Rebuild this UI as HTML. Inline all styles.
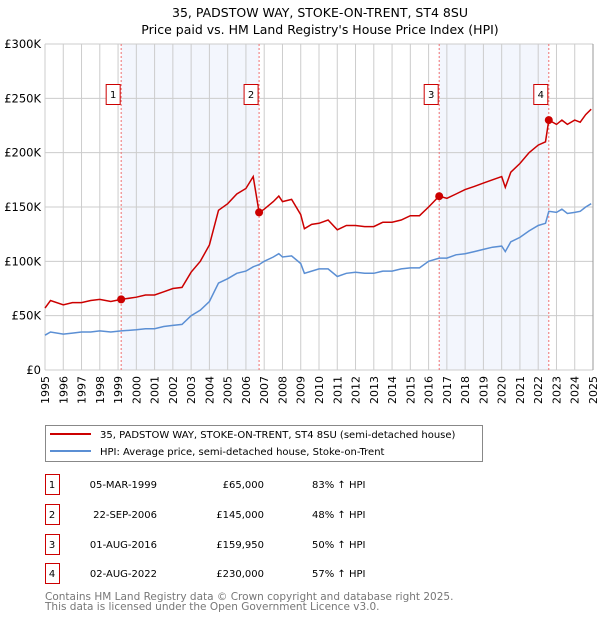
<!DOCTYPE html>
<html><head><meta charset="utf-8"><style>
body{margin:0;background:#fff;font-family:"DejaVu Sans","Liberation Sans",sans-serif;}
svg text{font-family:"DejaVu Sans","Liberation Sans",sans-serif;}
</style></head><body>
<svg id="c" width="600" height="620" xmlns="http://www.w3.org/2000/svg">
<text x="320" y="17" font-size="12.5" text-anchor="middle">35, PADSTOW WAY, STOKE-ON-TRENT, ST4 8SU</text>
<text x="320" y="34" font-size="12.5" text-anchor="middle">Price paid vs. HM Land Registry's House Price Index (HPI)</text>
<g id="plot"></g>
<g>
<rect x="45.5" y="425.5" width="437" height="36" fill="#fff" stroke="#888"/>
<line x1="50" y1="434" x2="91" y2="434" stroke="#cc0000" stroke-width="2"/>
<text x="100" y="438" font-size="10">35, PADSTOW WAY, STOKE-ON-TRENT, ST4 8SU (semi-detached house)</text>
<line x1="50" y1="451" x2="91" y2="451" stroke="#5b8fd4" stroke-width="2"/>
<text x="100" y="455" font-size="10">HPI: Average price, semi-detached house, Stoke-on-Trent</text>
</g>
<g id="table" font-size="10"></g>
<text x="45" y="600" font-size="10.5" fill="#777">Contains HM Land Registry data © Crown copyright and database right 2025.</text>
<text x="45" y="610" font-size="10.5" fill="#777">This data is licensed under the Open Government Licence v3.0.</text>
</svg>
<script>
const years=[1995,1995.3,1996,1996.5,1997,1997.5,1998,1998.6,1999.17,2000,2000.5,2001,2001.5,2002,2002.5,2003,2003.5,2004,2004.5,2005,2005.5,2006,2006.4,2006.72,2007,2007.5,2007.8,2008,2008.5,2009,2009.2,2009.6,2010,2010.5,2011,2011.5,2012,2012.5,2013,2013.5,2014,2014.5,2015,2015.5,2016,2016.58,2017,2017.5,2018,2018.5,2019,2019.5,2020,2020.2,2020.5,2021,2021.5,2022,2022.4,2022.58,2023,2023.3,2023.6,2024,2024.3,2024.6,2024.9];
const redVals=[57,64,60,62,62,64,65,63,65,67,69,69,72,75,76,90,100,115,147,153,162,167,178,145,148,155,160,155,157,143,130,134,135,138,129,133,133,132,132,136,136,138,142,142,150,160,158,162,166,169,172,175,178,168,182,190,200,207,210,230,226,230,226,230,228,235,240];
const blueVals=[32,35,33,34,35,35,36,35,36,37,38,38,40,41,42,50,55,63,80,84,89,91,95,97,100,104,107,104,105,98,89,91,93,93,86,89,90,89,89,91,91,93,94,94,100,103,103,106,107,109,111,113,114,109,118,122,128,133,135,146,145,148,144,145,146,150,153];
const yTicks=[0,50,100,150,200,250,300];
const yTickLabels=["£0","£50K","£100K","£150K","£200K","£250K","£300K"];
const xTicks=[1995,1996,1997,1998,1999,2000,2001,2002,2003,2004,2005,2006,2007,2008,2009,2010,2011,2012,2013,2014,2015,2016,2017,2018,2019,2020,2021,2022,2023,2024,2025];
const saleLabels=["1","2","3","4"];
const saleYears=[1999.17,2006.72,2016.58,2022.58];
const saleVals=[65,145,159.95,230];
const saleDates=["05-MAR-1999","22-SEP-2006","01-AUG-2016","02-AUG-2022"];
const salePrices=["£65,000","£145,000","£159,950","£230,000"];
const salePct=["83% ↑ HPI","48% ↑ HPI","50% ↑ HPI","57% ↑ HPI"];

const NS="http://www.w3.org/2000/svg";
const L=45,R=593,T=44,B=370;
const xs=v=>L+(v-1995)/30*(R-L);
const ys=v=>B-v/300*(B-T);
const plot=document.getElementById('plot');
function mk(tag,attrs,parent){const e=document.createElementNS(NS,tag);for(const k in attrs)e.setAttribute(k,attrs[k]);(parent||plot).appendChild(e);return e;}
for(let i=0;i<saleYears.length;i+=2){
 const r=mk('rect',{x:xs(saleYears[i]),y:T,width:xs(saleYears[i+1])-xs(saleYears[i]),height:B-T,fill:'#f3f6fd'});
 
 
}
xTicks.forEach(t=>{
 const l=mk('line',{x1:xs(t),x2:xs(t),y1:T,y2:B,stroke:'#ccc','stroke-width':1});
 
 
 const tx=mk('text',{x:0,y:0,'font-size':11,'text-anchor':'end',transform:`translate(${xs(t)+4},${B+6}) rotate(-90)`});
 tx.textContent=t;
 
 
});
yTicks.forEach((t,i)=>{
 const l=mk('line',{x1:L,x2:R,y1:ys(t),y2:ys(t),stroke:'#ccc','stroke-width':1});
 
 
 const tx=mk('text',{x:L-4,y:ys(t)+4,'font-size':11.5,'text-anchor':'end'});
 tx.textContent=yTickLabels[i];
 
 
});
const ax=mk('line',{x1:L,x2:L,y1:T,y2:B,stroke:'#ccc'});


const ax2=mk('line',{x1:R,x2:R,y1:T,y2:B,stroke:'#999'});


saleYears.forEach((y,i)=>{
 const l=mk('line',{x1:xs(y),x2:xs(y),y1:T,y2:B,stroke:'#f07070','stroke-dasharray':'2,2'});
 
 
});
const path=vals=>years.map((y,i)=>(i?'L':'M')+xs(y).toFixed(1)+','+ys(vals[i]).toFixed(1)).join('');
const pb=mk('path',{d:path(blueVals),fill:'none',stroke:'#5b8fd4','stroke-width':1.5});


const pr=mk('path',{d:path(redVals),fill:'none',stroke:'#cc0000','stroke-width':1.5});


saleYears.forEach((y,i)=>{
 const c=mk('circle',{cx:xs(y),cy:ys(saleVals[i]),r:4,fill:'#cc0000'});
 
 
 const bx=xs(y)-8;
 const r=mk('rect',{x:bx-7,y:84.5,width:14,height:20,fill:'#fff',stroke:'#cc0000'});
 
 
 const t=mk('text',{x:bx,y:98,'font-size':10,'text-anchor':'middle'});
 t.textContent=saleLabels[i];
 
 
});
const tb=document.getElementById('table');
const rowY=[484,514,544,573];
saleLabels.forEach((s,i)=>{
 const y=rowY[i];
 const r=mk('rect',{x:45.5,y:y-9.5,width:14,height:20,fill:'#fff',stroke:'#cc0000'},tb);
 
 
 const cells=[[52,s,'middle','table-row-number'],[157,saleDates[i],'end','table-date'],[264,salePrices[i],'end','table-price'],[312,salePct[i],'start','table-hpi-change']];
 cells.forEach(c=>{
  const t=mk('text',{x:c[0],y:y+4,'font-size':10,'text-anchor':c[2]},tb);
  t.textContent=c[1];
  
  
 });
});
</script>
</body></html>
